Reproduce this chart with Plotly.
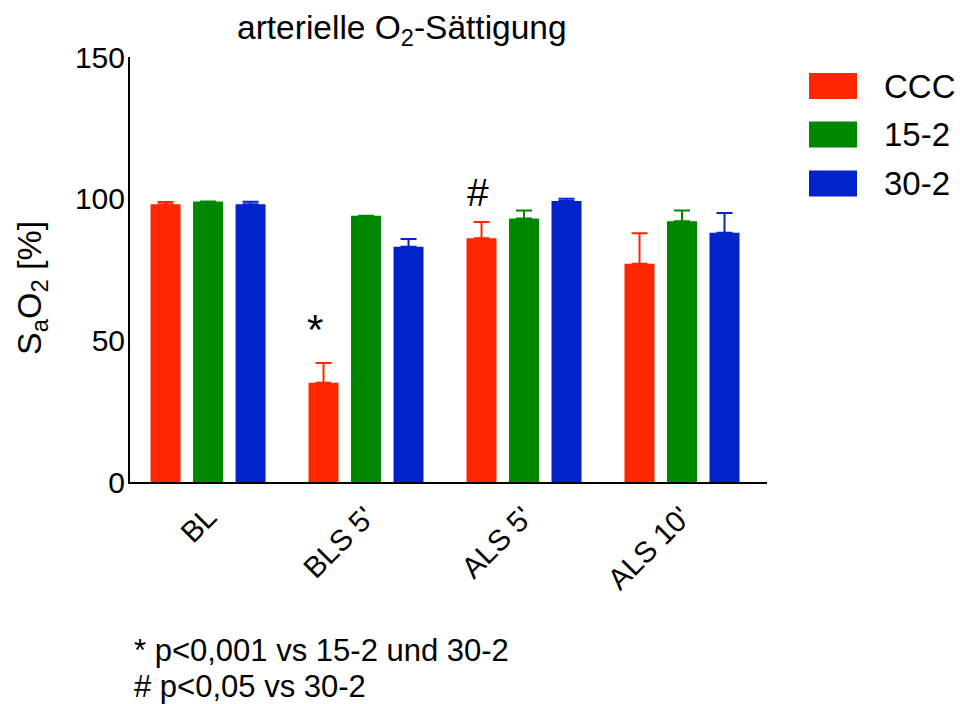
import plotly.graph_objects as go

categories = ["BL", "BLS 5'", "ALS 5'", "ALS 10'"]
series_names = ["CCC", "15-2", "30-2"]
ccc_values = [98, 35, 86, 77]
ccc_err = [0.8, 7, 5.8, 10.8]
g15_values = [99, 94, 93, 92]
g15_err = [0, 0, 2.8, 3.8]
g30_values = [98, 83, 99.2, 88]
g30_err = [0.9, 2.8, 0.8, 6.9]
colors = ["rgb(255,38,0)", "rgb(0,135,0)", "rgb(0,36,200)"]

FONT = "Liberation Sans, Arial, sans-serif"
W, H = 960, 704
L, R, T, B = 130, 767, 57, 482

def px(x):
    return (x - L) / (R - L)

def py(y):
    return (B - y) / (B - T)

fig = go.Figure()
for name, vals, errs, col in zip(series_names,
                                 [ccc_values, g15_values, g30_values],
                                 [ccc_err, g15_err, g30_err], colors):
    fig.add_trace(go.Bar(
        x=categories, y=vals, name=name,
        marker=dict(color=col, line=dict(width=0)),
        error_y=dict(type="data", array=errs, arrayminus=[0] * len(errs),
                     symmetric=False, color=col, thickness=2, width=8,
                     visible=True),
        showlegend=False,
    ))

fig.update_layout(
    width=W, height=H,
    margin=dict(l=L, r=W - R, t=T, b=H - B, pad=0),
    paper_bgcolor="white", plot_bgcolor="white",
    barmode="group", bargap=0.193, bargroupgap=0.294,
    font=dict(family=FONT, size=30, color="black"),
    xaxis=dict(type="category", range=[-0.494, 3.538], showline=True,
               linecolor="black", linewidth=2, ticks="", tickangle=-45,
               tickfont=dict(size=29.5), ticklabelstandoff=4,
               showgrid=False, zeroline=False),
    yaxis=dict(range=[0, 150], tickvals=[0, 50, 100, 150], showline=True,
               linecolor="black", linewidth=2, ticks="", ticklen=0,
               tickfont=dict(size=30), ticklabelstandoff=-3,
               showgrid=False, zeroline=False),
)

annotations = [
    dict(text="arterielle O<sub>2</sub>-Sättigung", x=px(402), xref="paper",
         y=py(30), yref="paper", xanchor="center", yanchor="middle",
         showarrow=False, font=dict(size=33.5)),
    dict(text="S<sub>a</sub>O<sub>2</sub> [%]", x=px(31), xref="paper",
         y=py(288), yref="paper", xanchor="center", yanchor="middle",
         textangle=-90, showarrow=False, font=dict(size=34)),
    dict(text="*", x=px(315), xref="paper", y=py(329), yref="paper",
         xanchor="center", yanchor="middle", showarrow=False,
         font=dict(size=42)),
    dict(text="#", x=px(478), xref="paper", y=py(193), yref="paper",
         xanchor="center", yanchor="middle", showarrow=False,
         font=dict(size=39)),
    dict(text="* p<0,001 vs 15-2 und 30-2", x=px(132), xref="paper",
         y=py(650), yref="paper", xanchor="left", yanchor="middle",
         showarrow=False, font=dict(size=31)),
    dict(text="# p<0,05 vs 30-2", x=px(132), xref="paper",
         y=py(686), yref="paper", xanchor="left", yanchor="middle",
         showarrow=False, font=dict(size=31)),
]

shapes = []
legend_y = [86, 134.5, 183.5]
for name, col, ly in zip(series_names, colors, legend_y):
    shapes.append(dict(type="rect", xref="paper", yref="paper",
                       x0=px(809), x1=px(857), y0=py(ly + 13), y1=py(ly - 13),
                       fillcolor=col, line=dict(width=0)))
    annotations.append(dict(text=name, x=px(882), xref="paper", y=py(ly),
                            yref="paper", xanchor="left", yanchor="middle",
                            showarrow=False, font=dict(size=33)))

fig.update_layout(annotations=annotations, shapes=shapes)
fig.write_html("out.html",
               config={"displayModeBar": False},
               post_script="document.body.style.margin='0';"
                           "document.body.style.overflow='hidden';")
